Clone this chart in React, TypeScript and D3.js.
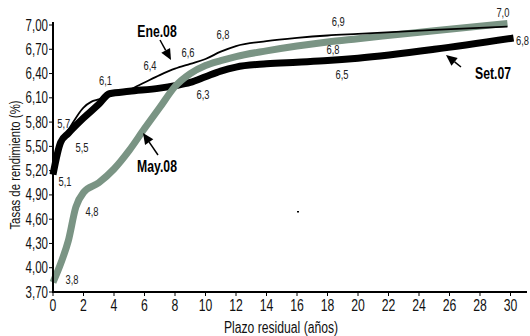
import React from "react";
import * as d3 from "d3";

const yTicks = [3.7, 4.0, 4.3, 4.6, 4.9, 5.2, 5.5, 5.8, 6.1, 6.4, 6.7, 7.0];
const xTicks = [0, 2, 4, 6, 8, 10, 12, 14, 16, 18, 20, 22, 24, 26, 28, 30];

const set07T = [0, 0.5, 1, 2, 3, 3.7, 5, 7, 8, 9, 10, 11, 12, 14, 16, 18, 20, 25, 30.2];
const set07V = [5.15, 5.55, 5.66, 5.85, 6.02, 6.15, 6.18, 6.22, 6.25, 6.29, 6.36, 6.43, 6.48, 6.52, 6.54, 6.56, 6.59, 6.7, 6.84];

const ene08T = [0, 0.5, 1, 2, 2.5, 3, 3.7, 5, 6, 7, 8, 9, 10, 11, 12, 14, 16, 18, 20, 25, 29.8];
const ene08V = [5.15, 5.55, 5.7, 5.98, 6.05, 6.08, 6.13, 6.2, 6.29, 6.38, 6.46, 6.52, 6.58, 6.67, 6.74, 6.8, 6.84, 6.87, 6.89, 6.94, 6.98];

const may08T = [0, 0.5, 1, 1.5, 2, 3, 4, 5, 6, 7, 8, 9, 10, 11, 12, 14, 16, 18, 20, 25, 29.8];
const may08V = [3.82, 4.05, 4.33, 4.75, 4.93, 5.05, 5.22, 5.45, 5.72, 5.98, 6.24, 6.4, 6.5, 6.56, 6.61, 6.68, 6.74, 6.79, 6.83, 6.93, 7.02];

const valueLabels = [
  { t: 0.7, v: 5.78, text: "5,7" },
  { t: 1.9, v: 5.49, text: "5,5" },
  { t: 0.79, v: 5.06, text: "5,1" },
  { t: 2.56, v: 4.69, text: "4,8" },
  { t: 1.25, v: 3.85, text: "3,8" },
  { t: 3.44, v: 6.32, text: "6,1" },
  { t: 6.36, v: 6.5, text: "6,4" },
  { t: 8.85, v: 6.66, text: "6,6" },
  { t: 11.15, v: 6.88, text: "6,8" },
  { t: 9.84, v: 6.14, text: "6,3" },
  { t: 18.7, v: 7.04, text: "6,9" },
  { t: 18.36, v: 6.7, text: "6,8" },
  { t: 18.95, v: 6.39, text: "6,5" },
  { t: 29.5, v: 7.15, text: "7,0" },
  { t: 31.05, v: 6.81, text: "6,8" },
];

const W = 530;
const H = 336;
const x = d3.scaleLinear().domain([0, 30]).range([53, 510.5]);
const y = d3.scaleLinear().domain([3.7, 7.0]).range([292, 25]);

const FONT = "'Liberation Sans', Arial, sans-serif";

function linePath(ts: number[], vs: number[]) {
  const pts: [number, number][] = ts.map((t, i) => [t, vs[i]]);
  return d3
    .line<[number, number]>()
    .x((d) => x(d[0]))
    .y((d) => y(d[1]))
    .curve(d3.curveMonotoneX)(pts) as string;
}

function CText({
  x: px,
  y: py,
  size,
  anchor = "middle",
  bold = false,
  rotate = 0,
  sx = 0.72,
  fill = "#111",
  children,
}: {
  x: number;
  y: number;
  size: number;
  anchor?: string;
  bold?: boolean;
  rotate?: number;
  sx?: number;
  fill?: string;
  children: React.ReactNode;
}) {
  return (
    <text
      transform={`translate(${px},${py}) rotate(${rotate}) scale(${sx},1)`}
      textAnchor={anchor}
      fontFamily={FONT}
      fontSize={size}
      fontWeight={bold ? "bold" : "normal"}
      fill={fill}
    >
      {children}
    </text>
  );
}

function Arrow({ x1, y1, x2, y2 }: { x1: number; y1: number; x2: number; y2: number }) {
  const ang = Math.atan2(y2 - y1, x2 - x1);
  const L = 11;
  const Wd = 5;
  const bx = x2 - L * Math.cos(ang);
  const by = y2 - L * Math.sin(ang);
  const px = -Math.sin(ang) * Wd;
  const py = Math.cos(ang) * Wd;
  return (
    <g>
      <line x1={x1} y1={y1} x2={bx} y2={by} stroke="#000" strokeWidth={1.5} />
      <polygon points={`${x2},${y2} ${bx + px},${by + py} ${bx - px},${by - py}`} fill="#000" />
    </g>
  );
}

export default function App() {
  const last = valueLabels.length - 1;
  return (
    <svg width={W} height={H} style={{ position: "absolute", left: 0, top: 0 }}>
      <rect width={W} height={H} fill="#fff" />
      {/* series */}
      <path d={linePath(set07T, set07V)} fill="none" stroke="#000" strokeWidth={7} strokeLinejoin="round" />
      <path d={linePath(may08T, may08V)} fill="none" stroke="#7a9484" strokeWidth={7} strokeLinejoin="round" />
      <path d={linePath(ene08T, ene08V)} fill="none" stroke="#000" strokeWidth={1.8} strokeLinejoin="round" />

      {/* axes */}
      <line x1={53} y1={22} x2={53} y2={293} stroke="#000" strokeWidth={2} />
      <line x1={52} y1={292} x2={527} y2={292} stroke="#000" strokeWidth={2} />
      {yTicks.map((v) => (
        <g key={"y" + v}>
          <line x1={49} x2={53} y1={y(v)} y2={y(v)} stroke="#000" strokeWidth={1} />
          <CText x={48} y={y(v) + 5.5} size={16} anchor="end">
            {v.toFixed(2).replace(".", ",")}
          </CText>
        </g>
      ))}
      {xTicks.map((t) => (
        <g key={"x" + t}>
          <line x1={x(t)} x2={x(t)} y1={292} y2={296} stroke="#000" strokeWidth={1} />
          <CText x={x(t)} y={311} size={17}>
            {t}
          </CText>
        </g>
      ))}
      <CText x={281} y={333} size={16} sx={0.76}>
        Plazo residual (años)
      </CText>
      <CText x={20} y={165} size={15} rotate={-90} sx={0.76}>
        Tasas de rendimiento (%)
      </CText>

      {/* value labels */}
      {valueLabels.map((d, i) => (
        <CText
          key={"l" + i}
          x={i === last ? 529 : x(d.t)}
          y={y(d.v) + 4.5}
          size={13}
          anchor={i === last ? "end" : "middle"}
          fill="#222"
        >
          {d.text}
        </CText>
      ))}

      {/* annotations */}
      <CText x={157} y={37} size={17} bold fill="#000">
        Ene.08
      </CText>
      <Arrow x1={160} y1={40} x2={171} y2={60} />
      <CText x={157} y={172} size={17} bold fill="#000">
        May.08
      </CText>
      <Arrow x1={158} y1={155} x2={143} y2={133} />
      <CText x={493} y={79} size={17} bold fill="#000">
        Set.07
      </CText>
      <Arrow x1={461} y1={67} x2={446} y2={55} />
      <rect x={297} y={211} width={2} height={1.5} fill="#000" />
    </svg>
  );
}
